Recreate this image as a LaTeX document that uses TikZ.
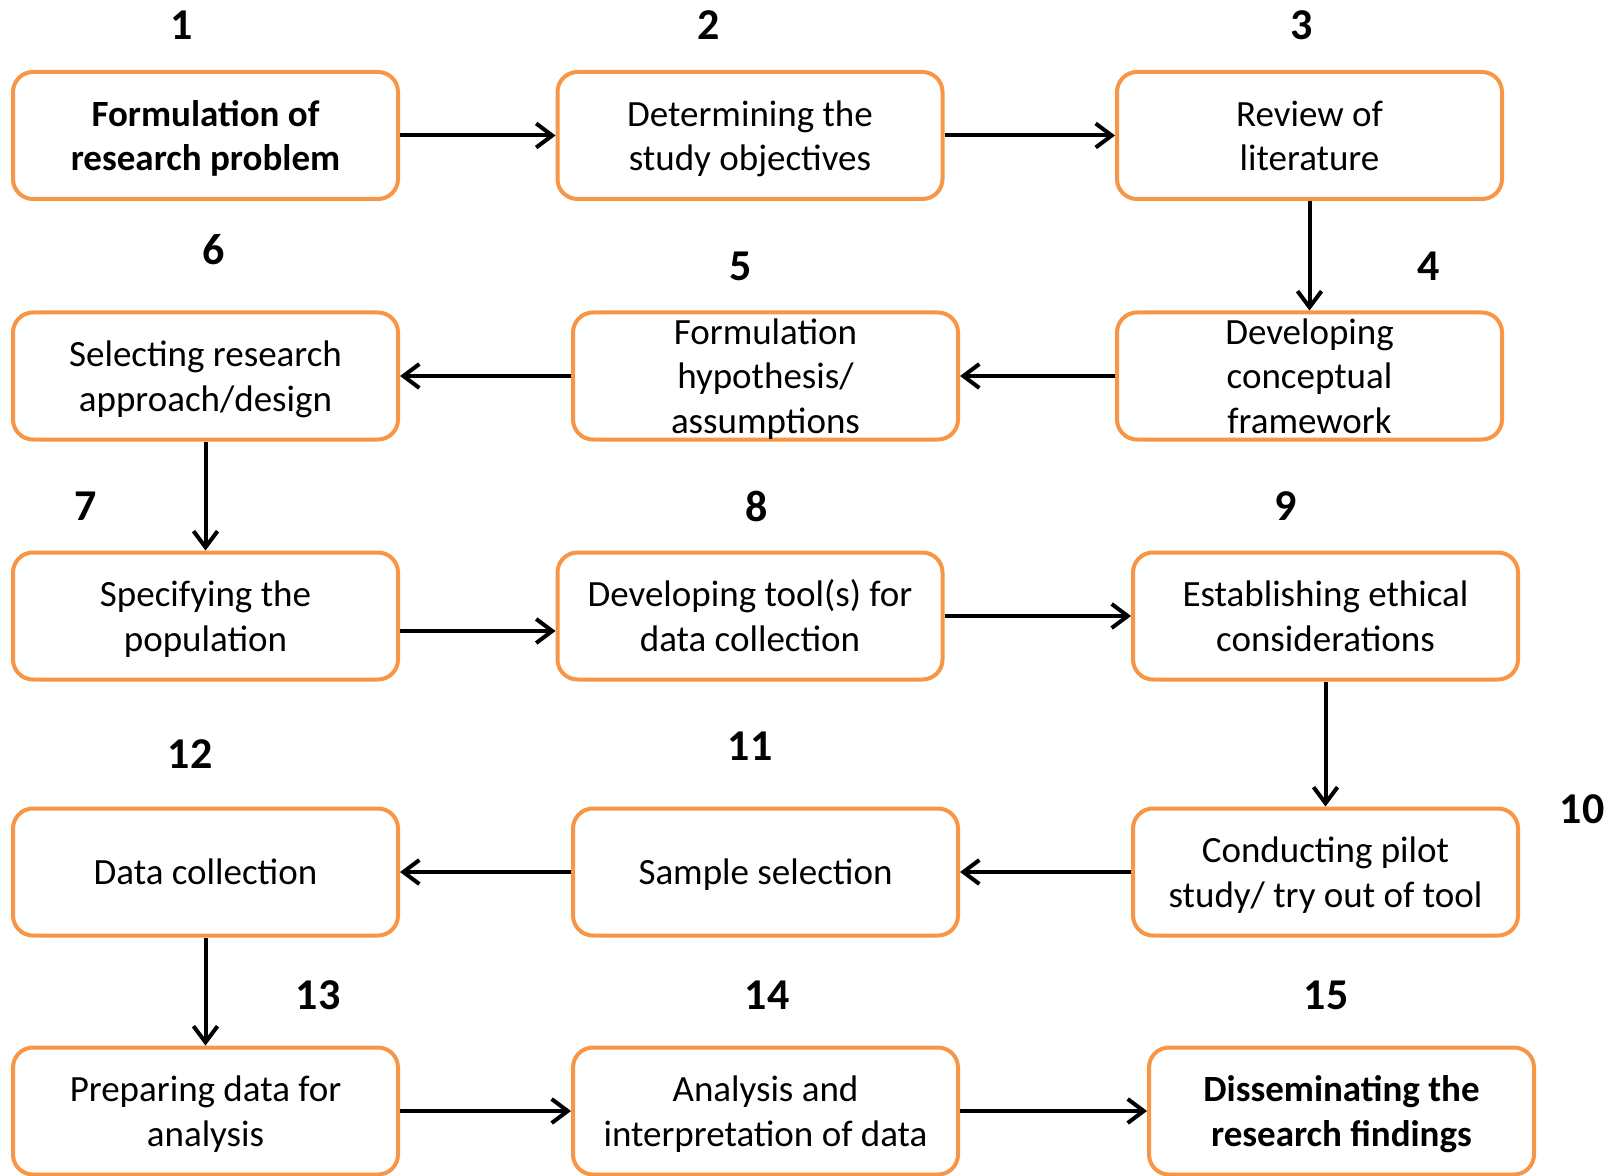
\documentclass[tikz,border=0pt]{standalone}
\usepackage{fontspec}
\setmainfont{Carlito}
\usetikzlibrary{arrows.meta}
\definecolor{boxorange}{HTML}{F79646}
\newcommand{\bxt}[1]{\raisebox{-2pt}[\dimexpr(\height-\depth)/2+10pt\relax][\dimexpr(\depth-\height)/2+10pt\relax]{\begin{tabular}{@{}c@{}}#1\end{tabular}}}
\tikzset{
  stepbox/.style={draw=boxorange, line width=2pt, rounded corners=10pt, fill=white,
    minimum width=192.5pt, minimum height=63.5pt, inner sep=0pt,
    font=\fontsize{18.5}{22.2}\selectfont},
  boldbox/.style={stepbox, font=\fontsize{18.5}{22.2}\selectfont\bfseries},
  num/.style={font=\fontsize{22}{26}\selectfont\bfseries, inner sep=0pt},
  conn/.style={line width=2pt, -{Straight Barb[length=8pt, width=12pt, line width=2pt]}}
}
\begin{document}
\begin{tikzpicture}[x=0.5pt, y=-0.5pt]
\useasboundingbox (0,0) rectangle (1620,1176);
% boxes
\node[boldbox] (b1) at (205.5,135.5) {\bxt{Formulation of\\research problem}};
\node[stepbox] (b2) at (750,135.5) {\bxt{Determining the\\study objectives}};
\node[stepbox] (b3) at (1309.5,135.5) {\bxt{Review of\\literature}};
\node[stepbox] (b4) at (1309.5,376) {\bxt{Developing\\conceptual\\framework}};
\node[stepbox] (b5) at (765.5,376) {\bxt{Formulation\\hypothesis/\\assumptions}};
\node[stepbox] (b6) at (205.5,376) {\bxt{Selecting research\\approach/design}};
\node[stepbox] (b7) at (205.5,616) {\bxt{Specifying the\\population}};
\node[stepbox] (b8) at (750,616) {\bxt{Developing tool(s) for\\data collection}};
\node[stepbox] (b9) at (1325.5,616) {\bxt{Establishing ethical\\considerations}};
\node[stepbox] (b10) at (1325.5,872) {\bxt{Conducting pilot\\study/ try out of tool}};
\node[stepbox] (b11) at (765.5,872) {\bxt{Sample selection}};
\node[stepbox] (b12) at (205.5,872) {\bxt{Data collection}};
\node[stepbox] (b13) at (205.5,1111) {\bxt{Preparing data for\\analysis}};
\node[stepbox] (b14) at (765.5,1111) {\bxt{Analysis and\\interpretation of data}};
\node[boldbox] (b15) at (1341.5,1111) {\bxt{Disseminating the\\research findings}};
% numbers
\node[num] (n1) at (182,25) {1};
\node[num] (n2) at (709,25) {2};
\node[num] (n3) at (1302,25) {3};
\node[num] (n6) at (214,250) {6};
\node[num] (n5) at (741,266) {5};
\node[num] (n4) at (1429,266) {4};
\node[num] (n7) at (86,506) {7};
\node[num] (n8) at (757,506) {8};
\node[num] (n9) at (1286,506) {9};
\node[num] (n12) at (190,754) {12};
\node[num] (n11) at (750,746) {11};
\node[num] (n10) at (1582,809) {10};
\node[num] (n13) at (318,995) {13};
\node[num] (n14) at (767,995) {14};
\node[num] (n15) at (1326,995) {15};
% connectors
\draw[conn] (b1.east) -- (b2.west);
\draw[conn] (b2.east) -- (b3.west);
\draw[conn] (b3.south) -- (b4.north);
\draw[conn] (b4.west) -- (b5.east);
\draw[conn] (b5.west) -- (b6.east);
\draw[conn] (b6.south) -- (b7.north);
\draw[conn] ([yshift=-7.5pt]b7.east) -- ([yshift=-7.5pt]b8.west);
\draw[conn] (b8.east) -- (b9.west);
\draw[conn] (b9.south) -- (b10.north);
\draw[conn] (b10.west) -- (b11.east);
\draw[conn] (b11.west) -- (b12.east);
\draw[conn] (b12.south) -- (b13.north);
\draw[conn] (b13.east) -- (b14.west);
\draw[conn] (b14.east) -- (b15.west);
\end{tikzpicture}
\end{document}
